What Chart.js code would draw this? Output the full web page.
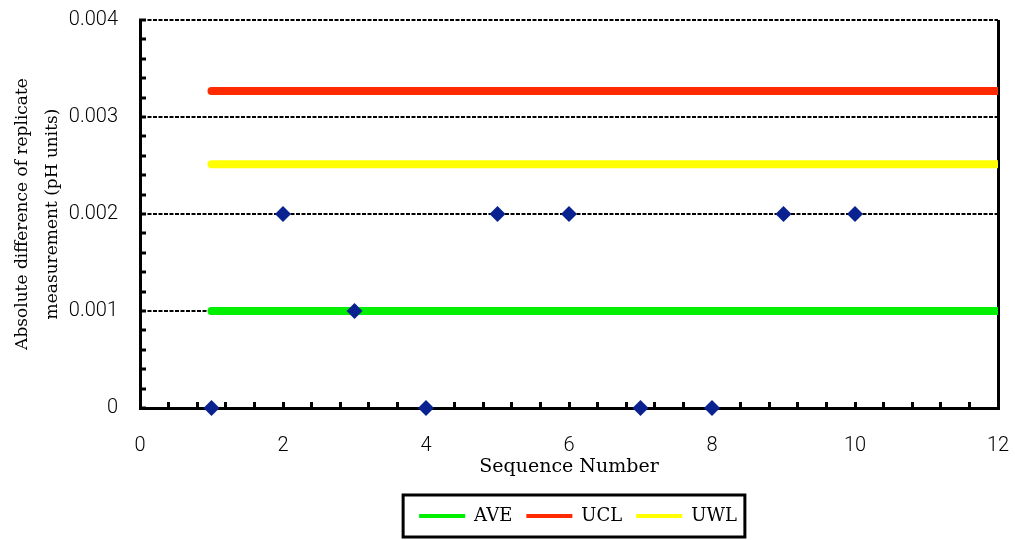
<!DOCTYPE html>
<html>
<head>
<meta charset="utf-8">
<script src="https://cdn.jsdelivr.net/npm/chart.js@4"></script>
<style>
  html, body { margin: 0; padding: 0; background: #ffffff; }
  #wrap { width: 1015px; height: 540px; }
</style>
</head>
<body>
<div id="wrap"><canvas id="c"></canvas></div>
<script>
// Replicate differences per sequence number
const sequence = [1, 2, 3, 4, 5, 6, 7, 8, 9, 10];
const absDiff = [0, 0.002, 0.001, 0, 0.002, 0.002, 0, 0, 0.002, 0.002];

// Control limits (average, upper control limit, upper warning limit)
const limitNames = ['AVE', 'UCL', 'UWL'];
const limitValues = [0.001, 0.003267, 0.002512];
const limitColors = ['#00f000', '#ff2a00', '#ffff00'];
const limitSpan = [1, 12];

// Axis tick labels
const xTickLabels = ['0', '2', '4', '6', '8', '10', '12'];
const yTickLabels = ['0', '0.001', '0.002', '0.003', '0.004'];

const xTitle = 'Sequence Number';
const yTitle = ['Absolute difference of replicate', 'measurement (pH units)'];

const SANS = 'Roboto, "Liberation Sans", Arial, sans-serif';
const SERIF = '"DejaVu Serif", "Liberation Serif", serif';

function isMultiple(v, step) {
  const q = v / step;
  return Math.abs(q - Math.round(q)) < 1e-6;
}

const limitSets = limitNames.map((name, i) => ({
  type: 'line',
  label: name,
  data: limitSpan.map(x => ({ x: x, y: limitValues[i] })),
  borderColor: limitColors[i],
  backgroundColor: limitColors[i],
  borderWidth: 8,
  borderCapStyle: 'round',
  pointRadius: 0,
  tension: 0,
  order: 1
}));

const pointSet = {
  type: 'scatter',
  label: 'Difference',
  data: sequence.map((x, i) => ({ x: x, y: absDiff[i] })),
  pointStyle: 'rectRot',
  pointRadius: 8,
  pointHoverRadius: 8,
  backgroundColor: '#0a2290',
  borderColor: '#0a2290',
  borderWidth: 0,
  clip: false,
  order: 0
};

// Centre the legend under the plot area instead of the full canvas
const legendUnderPlot = {
  id: 'legendUnderPlot',
  afterLayout(chart) {
    const lg = chart.legend;
    if (!lg) return;
    lg.left = chart.chartArea.left + 18;
    lg.right = chart.chartArea.right;
    lg.width = lg.right - lg.left;
  }
};

// Frame around the legend entries
const legendFrame = {
  id: 'legendFrame',
  afterDraw(chart) {
    const lg = chart.legend;
    if (!lg || !lg.legendHitBoxes || !lg.legendHitBoxes.length) return;
    const hb = lg.legendHitBoxes;
    let l = Infinity, r = -Infinity, cy = 0;
    hb.forEach(h => { l = Math.min(l, h.left); r = Math.max(r, h.left + h.width); cy += h.top + h.height / 2; });
    cy /= hb.length;
    const ctx = chart.ctx;
    ctx.save();
    ctx.strokeStyle = '#000';
    ctx.lineWidth = 3;
    ctx.strokeRect(l - 16, cy - 21, (r - l) + 24, 42);
    ctx.restore();
  }
};

new Chart(document.getElementById('c'), {
  data: { datasets: [...limitSets, pointSet] },
  options: {
    responsive: true,
    maintainAspectRatio: false,
    animation: false,
    events: [],
    layout: { padding: { left: 0, top: 20, right: 17, bottom: 5 } },
    plugins: {
      tooltip: { enabled: false },
      legend: {
        display: true,
        position: 'bottom',
        labels: {
          boxWidth: 46,
          boxHeight: 4,
          padding: 14,
          color: '#000',
          font: { family: SERIF, size: 18 },
          generateLabels: chart => chart.data.datasets
            .map((ds, i) => ({
              text: ds.label,
              fillStyle: ds.borderColor,
              strokeStyle: ds.borderColor,
              lineWidth: 0,
              hidden: false,
              datasetIndex: i,
              fontColor: '#000'
            }))
            .filter(item => item.datasetIndex < limitNames.length)
        }
      }
    },
    scales: {
      x: {
        type: 'linear',
        min: 0,
        max: 12,
        afterFit: s => { s.height = 85; s.paddingLeft = 0; s.paddingRight = 0; },
        ticks: {
          stepSize: 0.4,
          autoSkip: false,
          maxRotation: 0,
          padding: 32,
          color: '#000',
          font: { family: SANS, size: 20, weight: 300 },
          callback: v => isMultiple(v, 2) ? xTickLabels[Math.round(v / 2)] : ''
        },
        grid: {
          drawOnChartArea: true,
          color: c => (c.tick && Math.abs(c.tick.value - 12) < 1e-6) ? '#000' : 'rgba(0,0,0,0)',
          lineWidth: 3,
          tickColor: '#000',
          tickWidth: 3,
          tickLength: -6,
          tickBorderDash: []
        },
        border: { display: true, color: '#000', width: 3 },
        title: {
          display: true,
          text: xTitle,
          color: '#000',
          font: { family: SERIF, size: 19, lineHeight: 1.2 },
          padding: { top: 0, bottom: 15 }
        }
      },
      y: {
        type: 'linear',
        min: 0,
        max: 0.004,
        afterFit: s => { s.width = 140; s.paddingTop = 0; s.paddingBottom = 0; },
        ticks: {
          stepSize: 0.0002,
          autoSkip: false,
          padding: 28,
          color: '#000',
          font: { family: SANS, size: 20, weight: 300 },
          callback: v => isMultiple(v, 0.001) ? yTickLabels[Math.round(v / 0.001)] : ''
        },
        grid: {
          drawOnChartArea: true,
          color: c => (c.tick && c.tick.value > 0 && isMultiple(c.tick.value, 0.001)) ? '#000' : 'rgba(0,0,0,0)',
          lineWidth: 2,
          tickColor: '#000',
          tickWidth: 3,
          tickLength: -6,
          tickBorderDash: []
        },
        border: { display: true, color: '#000', width: 3, dash: [4, 1.5] },
        title: {
          display: true,
          text: yTitle,
          color: '#000',
          font: { family: SERIF, size: 17, lineHeight: 1.8 },
          padding: { top: 7, bottom: 0 }
        }
      }
    }
  },
  plugins: [legendUnderPlot, legendFrame]
});
</script>
</body>
</html>
